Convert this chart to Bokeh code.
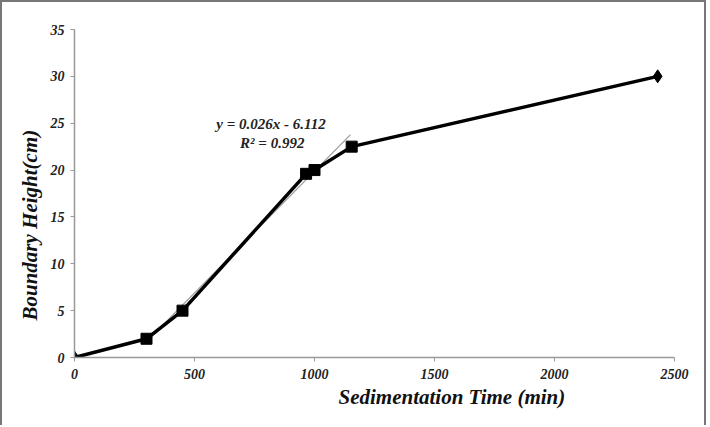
from bokeh.plotting import figure
from bokeh.models import Range1d, FixedTicker, ColumnDataSource, Label, Title
from bokeh.embed import file_html
from bokeh.resources import INLINE

# data
time_min = [0, 300, 450, 965, 1000, 1155, 2430]
height_cm = [0, 2.0, 5.0, 19.6, 20.0, 22.5, 30.0]
marker_kind = ["diamond", "square", "square", "square", "square", "square", "diamond"]
x_ticks = [0, 500, 1000, 1500, 2000, 2500]
y_ticks = [0, 5, 10, 15, 20, 25, 30, 35]
trend_slope = 0.026
trend_intercept = -6.112
trend_x = [300, 1150]
trend_y = [trend_slope * t + trend_intercept for t in trend_x]
eq_text = "y = 0.026x - 6.112"
r2_text = "R² = 0.992"
x_title = "Sedimentation Time (min)"
y_title = "Boundary Height(cm)"

FONT = "Liberation Serif"

p = figure(width=706, height=425, output_backend="svg", toolbar_location=None,
           x_range=Range1d(0, 2500), y_range=Range1d(0, 35),
           min_border_left=72, min_border_right=34, min_border_top=27, min_border_bottom=70)
p.styles = {"border-left": "2px solid #777", "border-top": "2px solid #777",
            "border-right": "2px solid #777"}
p.outline_line_color = None
p.grid.visible = False
p.background_fill_color = "white"

for ax in (p.xaxis[0], p.yaxis[0]):
    ax.axis_line_color = "#999999"
    ax.axis_line_width = 1.5
    ax.major_tick_line_color = "#999999"
    ax.major_tick_out = 4
    ax.major_tick_in = 0
    ax.minor_tick_line_color = None
    ax.major_label_text_font = FONT
    ax.major_label_text_font_style = "bold italic"
    ax.major_label_text_font_size = "14px"
    ax.major_label_text_color = "#222222"

p.xaxis.ticker = FixedTicker(ticks=x_ticks)
p.yaxis.ticker = FixedTicker(ticks=y_ticks)
p.xaxis.major_label_standoff = 7
p.yaxis.major_label_standoff = 6

# axis titles (placed like the reference, off-centre)
xt = Title(text=x_title, align="left", offset=264, standoff=2,
           text_font=FONT, text_font_style="bold italic", text_font_size="21px",
           text_color="#111111")
yt = Title(text=y_title, align="left", offset=37, standoff=12,
           text_font=FONT, text_font_style="bold italic", text_font_size="21px",
           text_color="#111111")
p.add_layout(xt, "below")
p.add_layout(yt, "left")

# trend line
p.line(trend_x, trend_y, line_color="#9a9a9a", line_width=1.2)
# data line
p.line(time_min, height_cm, line_color="black", line_width=3.5)

sq = ColumnDataSource(dict(x=[t for t, m in zip(time_min, marker_kind) if m == "square"],
                           y=[h for h, m in zip(height_cm, marker_kind) if m == "square"]))
dm = ColumnDataSource(dict(x=[t for t, m in zip(time_min, marker_kind) if m == "diamond"],
                           y=[h for h, m in zip(height_cm, marker_kind) if m == "diamond"]))
p.scatter("x", "y", source=sq, marker="square", size=11, color="black")
p.scatter("x", "y", source=dm, marker="diamond", size=13, color="black")

p.add_layout(Label(x=819, y=24.9, text=eq_text, text_align="center", text_baseline="middle",
                   text_font=FONT, text_font_style="bold italic", text_font_size="15px",
                   text_color="#222222"))
p.add_layout(Label(x=824, y=22.9, text=r2_text, text_align="center", text_baseline="middle",
                   text_font=FONT, text_font_style="bold italic", text_font_size="15px",
                   text_color="#222222"))

open("out.html", "w").write(file_html(p, INLINE))
